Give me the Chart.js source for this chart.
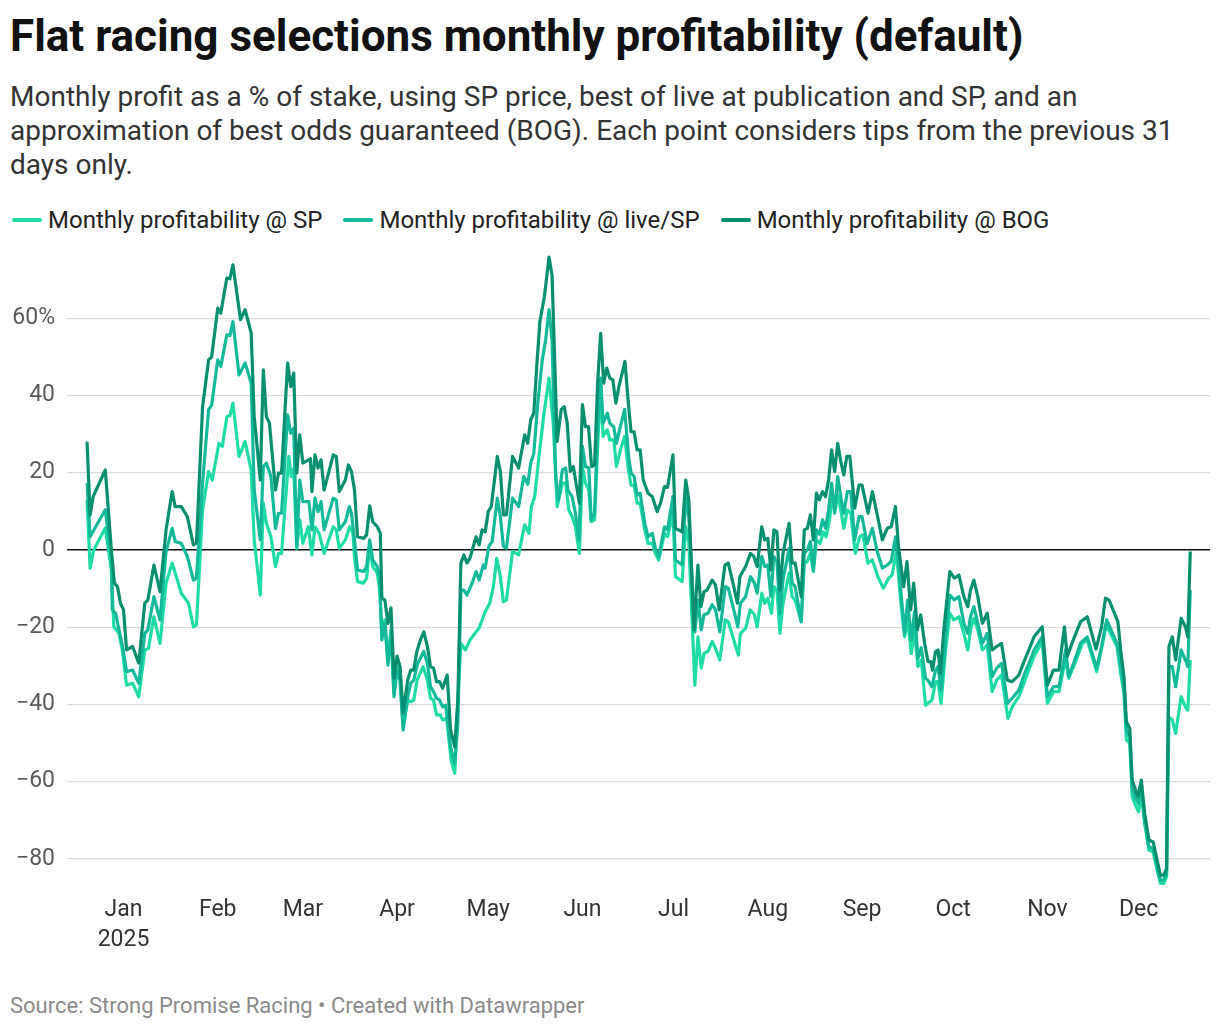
<!DOCTYPE html>
<html>
<head>
<meta charset="utf-8">
<title>Flat racing selections monthly profitability (default)</title>
<script src="https://cdn.jsdelivr.net/npm/chart.js@4.4.1/dist/chart.umd.min.js"></script>
<style>
    body { margin: 0; background: #fff; font-family: Roboto, "Noto Sans", sans-serif; }
    #page { position: relative; width: 1220px; height: 1030px; overflow: hidden; }
    .title { position: absolute; left: 10px; top: 11px; font-size: 44px; font-weight: 700; line-height: 50px; color: #111; white-space: nowrap; }
    .subtitle { position: absolute; left: 10px; top: 80px; width: 1200px; font-size: 28px; line-height: 34px; color: #333; }
    .legend { position: absolute; left: 12px; top: 205px; height: 30px; display: flex; align-items: center; font-size: 24px; color: #222; white-space: nowrap; }
    .legend-item { display: flex; align-items: center; margin-right: 21px; }
    .swatch { width: 30px; height: 4px; border-radius: 2px; margin-right: 6px; }
    .source { position: absolute; left: 10px; top: 993px; font-size: 22px; line-height: 26px; color: #8a8a8a; white-space: nowrap; }
    #chart { position: absolute; left: 0; top: 240px; }
</style>
</head>
<body>
<div id="page">
    <div class="title">Flat racing selections monthly profitability (default)</div>
    <div class="subtitle">Monthly profit as a % of stake, using SP price, best of live at publication and SP, and an approximation of best odds guaranteed (BOG). Each point considers tips from the previous 31 days only.</div>
    <div class="legend" id="legend"></div>
    <canvas id="chart" width="1220" height="720"></canvas>
    <div class="source">Source: Strong Promise Racing • Created with Datawrapper</div>
</div>
<script>
// Day numbers count from 1 Jan 2025 (day 0)
const monthStarts = [0, 31, 59, 90, 120, 151, 181, 212, 243, 273, 304, 334];
const monthLabels = [['Jan', '2025'], 'Feb', 'Mar', 'Apr', 'May', 'Jun', 'Jul', 'Aug', 'Sep', 'Oct', 'Nov', 'Dec'];
const yTicks = [-80, -60, -40, -20, 0, 20, 40, 60];

const seriesNames = ['Monthly profitability @ SP', 'Monthly profitability @ live/SP', 'Monthly profitability @ BOG'];

// [day, profit %]
const spPoints = [
    [-12, 13], [-11, -4.7], [-9.8, 0], [-6, 5.7], [-4, -5.2], [-3.2, -19.9], [-1.5, -21.6], [-0.4, -25.9], [1, -35], [3, -34.5],
    [5, -38], [7, -25.9], [8.2, -25.5], [10, -17.3], [12, -24.2], [14, -8.6], [16, -3.4], [17, -5.9], [19, -11.2], [21.4, -13.8],
    [23, -19.9], [24, -19.4], [26, 10.4], [28, 20.3], [29.2, 18.1], [31.4, 27.6], [32.5, 26.8], [34, 34.5], [35, 34.8], [36, 38],
    [38, 24.2], [40, 28.1], [42, 20.7], [43, 2.6], [45, -11.7], [46, 12.1], [47, 6.9], [48.5, 3.4], [50, -4.3], [51, -0.9],
    [52, -0.9], [54.4, 24.2], [55.2, 19], [56, 21], [57, 0.4], [58, 7.8], [59, 1.7], [60.8, 6], [62, -1.3], [63, 6],
    [64.4, 4.2], [66, -0.9], [69, 6], [70, 5.2], [71, 0.4], [73, 2.6], [74.4, 6], [75.5, 4.3], [76, -1.7], [77, -8.2],
    [79, -8.6], [80, -7.3], [81, 1.3], [82, -4.3], [83.5, -6], [84.3, -10.4], [85, -22.5], [86, -18.1], [87, -28.5], [88, -20.7],
    [89, -37.1], [90, -30.2], [91, -33.7], [92, -45.7], [93.5, -38.9], [94.5, -39.3], [95.5, -38.9], [96.6, -33.7], [98.6, -30.2], [100, -33.7],
    [101, -38.4], [102, -38.9], [103, -42.7], [104.2, -42.7], [105, -44], [106.3, -43.6], [107.8, -54.4], [109, -57.8], [110, -38.9], [111, -24.2],
    [112.5, -25.9], [114, -23.3], [117, -20.2], [119, -16], [120.5, -13.8], [121.7, -9.5], [122.8, -2.2], [123.9, -6.5], [125, -13.4], [126, -13],
    [128, -0.4], [130, -1.3], [131.3, 3.9], [132, 6.5], [133.4, 4.3], [134.2, 11.2], [135.3, 13.8], [136.7, 24.2], [138.3, 35], [140, 44.5],
    [141.4, 32.8], [142.7, 11.2], [144.4, 17.3], [145.5, 17.3], [146.5, 10.4], [147.6, 8.6], [148.7, 6], [150, -0.9], [151, 21.6], [152, 17.3],
    [153.1, 15.5], [153.9, 7.3], [155, 7.8], [156, 26.8], [157, 42.3], [157.8, 29.4], [159.2, 31.1], [160, 28.5], [161.3, 28.5], [162.2, 21.6],
    [163.5, 25.9], [164.9, 29.4], [166.2, 20.3], [167, 16.8], [168, 16.8], [169, 12.1], [170, 12.1], [171.5, 5.2], [172.6, 1.7], [174, 1.7],
    [175, -0.9], [176.1, -2.6], [178, 4.3], [179, 3.4], [180.8, 9.5], [181.6, -6.9], [183.8, -8.2], [185, 6], [186, 2], [188, -35],
    [189, -22.5], [190.1, -30.6], [191, -26.8], [192.3, -26.3], [193.7, -23.7], [194.8, -25.5], [196.2, -28.5], [198, -18.1], [199, -18.6], [200.8, -23.3],
    [202.3, -27.2], [203, -21.6], [204.7, -20.3], [206.2, -15.5], [207.6, -16.8], [208.5, -19.9], [210, -11.2], [211, -13.8], [212, -12.5], [213.2, -16.4],
    [214, -9.5], [215, -10.4], [216, -21.6], [217, -13.8], [219, -6], [220, -12.1], [221, -13], [223, -18.6], [224, -3.4], [225, -3],
    [226, -0.9], [227, -5.6], [228, 2.6], [229.2, 1.7], [230.3, 4.7], [231.2, 3.4], [232.3, 7.8], [233.3, 13.8], [234.2, 10.4], [235, 14.2],
    [236, 10.4], [237, 5.6], [238.2, 10.4], [239.3, 9.5], [240.8, -0.9], [242.2, 3.4], [243.3, 3.9], [244.9, -3.4], [246.4, -2.6], [248.2, -6.9],
    [250, -9.9], [251.8, -7.3], [252.9, -6.5], [254.3, -0.4], [255.8, -13.8], [257, -22.5], [258, -18], [259.2, -26.8], [260.3, -21], [261.4, -30.2],
    [262.5, -28.5], [263.9, -40.2], [265.3, -39.3], [266, -38.9], [267.2, -34.1], [268, -34.1], [269, -39.7], [270.5, -25.9], [271.9, -16.4], [273.2, -18.1],
    [274.9, -17.3], [276.5, -21.6], [277.8, -25.9], [278.7, -20.7], [279.8, -17.7], [281.1, -20.7], [282.6, -25.9], [284.2, -24.6], [285.8, -36.7], [287.3, -33.7],
    [288.9, -32.4], [291, -43.6], [292.4, -40.6], [294.6, -38], [296.3, -34.5], [297.9, -31.1], [299.6, -27.6], [302.3, -23.7], [304, -39.7], [306, -36.7],
    [307.8, -36.7], [310, -28.1], [311, -33.2], [313.3, -28.9], [315.5, -24.2], [317.1, -23.3], [320.2, -31.5], [322, -25], [323.3, -19.5], [324.5, -21.2],
    [326.9, -25], [328.1, -31.9], [329.2, -37.1], [330, -49.2], [331.1, -50], [331.9, -63.9], [333, -66.1], [334, -67.8], [334.9, -63], [336, -70.9],
    [337.4, -77.7], [338.8, -78.2], [340.1, -82.9], [341.2, -86.3], [342.3, -86.3], [343.2, -84.6], [344, -43.2], [345.1, -44], [346.2, -47.5], [348, -38],
    [349.4, -40.6], [350.2, -41.5], [351, -28.5]
];

const livePoints = [
    [-12, 17.3], [-11, 3.4], [-6, 10.4], [-4, -2.6], [-3.7, -15.5], [-2.6, -16.4], [-1.5, -20.7], [-0.4, -24.6], [1, -31.5], [3, -31.1],
    [5, -34.5], [7, -21.6], [8, -20.7], [10, -12.1], [12, -18.1], [14, -0.4], [16, 5.6], [17, 2.2], [19, 1.7], [21, -1.7],
    [23, -7.8], [24, -7.3], [26, 17.3], [28, 36.3], [29, 37.5], [31, 49.2], [32, 47.5], [34, 55.7], [35, 55.5], [36, 59.1],
    [38, 45.3], [40, 48.4], [42, 43.2], [43, 15.5], [45, 2.6], [46, 21.6], [47, 22.5], [48.5, 19], [50, 5.5], [51, 9.5],
    [52, 9.5], [54, 35], [55, 30.2], [56, 31.5], [57, 0.9], [58, 18.1], [59, 12.5], [61, 12.5], [62, 5.2], [63, 13.4],
    [64, 9.9], [65, 12.5], [66, 5.2], [69, 13.4], [70, 12.9], [71, 5.2], [73, 7.3], [74.3, 11.2], [75, 9.5], [76, 2.6],
    [77, -5.2], [79, -5.6], [80, -4.3], [81, 2.6], [82, -2.6], [83.5, -4.3], [84.3, -6.9], [85, -23.3], [86, -19], [87, -29.8],
    [88, -21.6], [89, -38], [90, -31.1], [91, -33.7], [92, -46.6], [93.5, -38], [94.5, -34.5], [95.5, -33.7], [96.8, -29.4], [98.8, -26.3],
    [100, -29.4], [101, -35.4], [102, -36.7], [103, -38.4], [104, -38.9], [105, -40.6], [106, -40.2], [107.6, -51], [109, -55.3], [110, -45],
    [111, -10.4], [112, -10.4], [113, -11.7], [114.7, -8.6], [116, -5.6], [117, -7.8], [118.4, -3.9], [119, -4.7], [120.2, 0.9], [121.3, 2.2],
    [123, 13.4], [124, 8.6], [125, 0.9], [126, 0.5], [128, 13.4], [130, 11.2], [131.7, 19], [133, 17], [134, 22.5], [135, 25],
    [136.3, 38], [137.8, 49.2], [138.9, 54.4], [140, 62.2], [141, 54.4], [142.2, 19], [143.1, 13], [144.4, 20.7], [145.5, 21.2], [146.2, 15.5],
    [147.6, 13.8], [148.7, 9.5], [149.8, 2.6], [151, 26.8], [152, 21.6], [153.1, 21.2], [153.9, 7.8], [155, 9.5], [156, 31.9], [157, 44.5],
    [157.8, 32.8], [159.2, 35.4], [160, 32.8], [161.3, 31.9], [162.2, 27.6], [163.2, 31.1], [164.9, 36.4], [166.2, 24.2], [167, 19.9], [168, 19],
    [169, 14.2], [170, 14.7], [171.5, 6.9], [172.6, 3.4], [174, 4.3], [175, 0.4], [176.1, -1.7], [178, 6], [179, 5.2], [180.8, 13.8],
    [181.6, -2.6], [183.8, -3.9], [185, 13.4], [186, 8.6], [188, -21.2], [189, -13], [190.1, -20.7], [191, -16.8], [192.3, -16.4], [193.7, -14.2],
    [194.8, -15.5], [196.2, -21.2], [198, -9.5], [199, -9.9], [200.8, -15.5], [202.1, -19.9], [203, -13.8], [204.7, -12.1], [206.3, -6.9], [207.6, -8.6],
    [208.5, -11.2], [210, -1.7], [211, -4.3], [212, -3.9], [213, -12.1], [214, -1.7], [215, -3], [216, -16.4], [217, -7.8], [219, 0.4],
    [220, -8.6], [221, -9.5], [223, -18.6], [224, -0.9], [225, 0], [226, 2.2], [227, -5.2], [228, 5.2], [229, 4], [230, 7.8],
    [231, 5.6], [232, 10.4], [233, 17.3], [234, 9.5], [235, 19], [236, 13.8], [237, 9.5], [238.2, 15.1], [239.3, 15.1], [240.6, 2.6],
    [242, 8.6], [243, 8.6], [244.7, 1.7], [246.4, 5.6], [248, -0.4], [249.7, -4.7], [251.3, -3.9], [252.6, -3], [254, 3.4], [255, -3.4],
    [257, -21.6], [258, -13], [259.2, -23.3], [260.3, -15.9], [261.4, -28.1], [262.5, -25.3], [263.9, -33.2], [265, -34.1], [266, -35.4], [267.2, -31.1],
    [268, -30.2], [269, -36.3], [270.5, -22.5], [271.9, -11.7], [273.4, -12.9], [274.9, -12.1], [276.5, -19], [277.8, -21.6], [278.7, -17.3], [279.8, -14.7],
    [281.1, -19], [282.6, -24.2], [284.2, -21.6], [285.8, -32.8], [287.3, -30.6], [288.9, -29.4], [290.9, -39.7], [292.4, -38.4], [294.6, -36.3], [296.3, -32.4],
    [297.9, -29.4], [299.6, -25.9], [302.3, -22.5], [304, -38], [306, -35.4], [307.8, -35.4], [310, -25.9], [311, -32.8], [313, -28.5], [315, -24],
    [317.1, -22.5], [320.2, -30.6], [321.8, -25], [323.5, -18.1], [324.5, -19.9], [326.9, -24.2], [328.1, -30.2], [329.2, -35.4], [330, -46.6], [331.1, -48.4],
    [331.9, -61.3], [333, -64.3], [334, -65.6], [334.9, -61], [336, -70], [337.4, -76.9], [338.8, -77.3], [340.1, -82], [341.2, -85.5], [342.3, -85.5],
    [343.2, -83.8], [344, -30.2], [345.1, -30.2], [346.2, -35.4], [348, -25.9], [349.4, -28.5], [350.2, -30.2], [351, -10.4]
];

const bogPoints = [
    [-12, 28], [-11, 9], [-10, 13.8], [-6, 20.7], [-4, 0], [-3, -8.6], [-2, -9.5], [-1, -13.8], [0, -15.5], [1, -25.9],
    [3, -25], [5, -29.3], [7, -13.8], [8, -13], [10, -3.9], [12, -10.8], [14, 5.2], [16, 15.1], [17, 11.2], [19, 11.2],
    [21, 8.6], [23, 1.3], [24, 1.8], [26, 37], [28, 49.2], [29, 50], [31, 62.6], [32, 61.3], [34, 70.4], [35, 70.2],
    [36, 73.8], [38.5, 59.6], [40, 62.2], [42, 56.2], [43, 34.5], [45, 18.1], [46, 46.6], [47, 34.5], [48, 32.9], [50, 15.5],
    [51, 19.9], [52, 19.9], [54, 48.4], [55, 42.3], [56, 45.8], [57, 19.9], [58, 29.8], [59, 22.5], [61.5, 23.6], [62, 15.1],
    [63, 24.6], [64, 21.2], [65, 23.3], [66, 15.5], [69, 24.6], [70, 24.2], [71, 15.1], [73, 18.1], [74, 22], [75, 20.3],
    [76, 15.5], [77, 3.4], [79, 3], [80, 3.9], [81, 11.4], [82, 7.3], [83.5, 6], [84.5, 4.3], [85, -12.5], [86, -13],
    [87, -19], [88, -15], [89, -33.2], [90, -27.5], [91, -30.2], [92, -42.2], [93.5, -33.7], [94.5, -31.1], [95.5, -31.1], [96.5, -26.3],
    [97.7, -23.3], [98.8, -21.2], [100, -25], [101, -30.2], [102, -30.6], [103, -34.1], [104, -34.1], [105, -35.8], [106.5, -32.4], [107.6, -46.6],
    [109, -51], [110, -38.9], [111, -3.4], [112, -1.3], [113, -3.4], [114, -2.1], [116, 3.4], [117, 1.3], [118, 5.2], [119, 4.7],
    [120, 9.9], [121, 11.2], [123, 24.2], [124, 20.3], [125, 9.1], [126, 9.1], [128, 24.2], [130, 21.2], [132, 29.8], [133, 27.6],
    [134, 33.7], [135, 35.4], [136, 47.9], [137, 59.1], [138.5, 65.6], [140, 75.8], [141, 71.2], [142.7, 28.1], [144, 36.3], [145, 37.1],
    [146, 32.8], [147, 20.3], [148, 21.6], [150, 12.1], [151, 37.6], [152, 31.9], [153, 31.9], [154, 21.6], [155, 22], [156, 43.2],
    [157, 56.1], [158, 43.2], [159, 47.1], [160, 44.5], [161, 44], [162, 38], [163, 42.3], [165, 48.8], [166, 38.9], [167, 30.6],
    [168, 30.6], [169, 25.9], [170, 25.9], [171, 18.1], [172.6, 14.7], [174, 13.8], [175.6, 9.9], [176.7, 12.1], [178, 16.4], [179, 16.2],
    [180.8, 24.6], [181.6, 5.6], [183.8, 4.7], [185, 18.1], [186, 13], [187.7, -20.7], [189, -3.9], [190, -14.7], [191, -10.8], [192, -10.4],
    [193.7, -7.8], [194.8, -9.1], [196, -15.5], [197.9, -3.9], [199, -3.4], [200.8, -9.5], [202, -13.8], [202.8, -6.9], [204.7, -4.3], [206.3, -0.9],
    [207.4, -1.7], [208.5, -4.3], [210, 6], [211, 2.6], [212, 3], [213, -5.2], [214, 5.2], [215, 4.7], [216, -10.4], [217, -0.9],
    [219, 6.9], [220, -3.4], [221, -3.4], [223, -12.1], [224, 5.2], [225, 5.6], [226, 9.1], [227, 2.6], [228, 14.7], [229, 13],
    [230, 15.1], [231, 13.8], [232, 18.1], [233, 25.9], [234, 20.3], [235, 27.6], [236, 22.9], [237, 19.4], [238, 24.2], [239, 24.2],
    [240.6, 10.8], [242, 16.8], [243, 16.8], [245, 9.5], [246.4, 15.1], [248, 9.1], [249.7, 2.6], [251.3, 5.6], [252.6, 6], [254, 11.2],
    [255, 0.9], [256.7, -9.5], [257.8, -3], [259, -15.5], [260, -8.6], [261.2, -20.7], [262.3, -16.8], [263.6, -24.2], [264.7, -28.9], [265.6, -28.9],
    [266.2, -31.1], [267.2, -26.3], [268, -25.9], [268.8, -31.9], [270, -19.9], [271.9, -5.6], [273.4, -7.3], [274.9, -6.5], [276.5, -12.1], [277.8, -14.7],
    [278.7, -10.4], [279.8, -7.8], [281.1, -12.1], [282.6, -19], [284.2, -16.4], [285.8, -25.9], [287.3, -25], [288.9, -24.2], [290.8, -33.7], [292.4, -34.1],
    [294.6, -32.4], [296.3, -28.9], [297.9, -25.9], [299.6, -22.5], [302.3, -19.9], [304, -35], [306, -31.1], [307.8, -31.1], [309.6, -19.9], [310.5, -27.6],
    [312.9, -22.5], [314.9, -18.6], [317.1, -17.3], [320, -25.7], [321.8, -20], [323.1, -12.5], [324.3, -13], [327.2, -18.6], [328.1, -25.9], [329.2, -32.8],
    [330, -44.5], [331.1, -46.2], [331.9, -59.6], [332.8, -61.7], [333.8, -63.9], [334.9, -59.6], [336, -68.2], [337.4, -75.1], [338.8, -75.6], [340.1, -80.3],
    [341.2, -84.2], [342.3, -84.2], [343.2, -82.5], [344, -25], [345.1, -22.5], [346.2, -28.5], [348, -17.7], [349.4, -19.9], [350.2, -22.5], [351, -0.4]
];

const colors = {
    sp: '#1fdba6',
    live: '#14b99a',
    bog: '#078f6f',
    grid: '#d9d9d9',
    zero: '#111111',
    yText: '#5a5a5a',
    xText: '#333333'
};

function toXY(points) {
    return points.map(p => ({ x: p[0], y: p[1] }));
}

function renderLegend() {
    const legendEl = document.getElementById('legend');
    const swatchColors = [colors.sp, colors.live, colors.bog];
    seriesNames.forEach((name, i) => {
        const item = document.createElement('div');
        item.className = 'legend-item';
        item.innerHTML = '<span class="swatch" style="background:' + swatchColors[i] + '"></span>' + name;
        legendEl.appendChild(item);
    });
}

function lineDataset(label, points, color, order) {
    return {
        label: label,
        data: toXY(points),
        borderColor: color,
        backgroundColor: color,
        borderWidth: 3.2,
        pointRadius: 0,
        tension: 0,
        borderJoinStyle: 'round',
        order: order
    };
}

function renderChart() {
    const ctx = document.getElementById('chart');
    const tickFont = { family: 'Roboto', size: 23, lineHeight: 1.3 };

    new Chart(ctx, {
        type: 'line',
        data: {
            datasets: [
                lineDataset(seriesNames[0], spPoints, colors.sp, 3),
                lineDataset(seriesNames[1], livePoints, colors.live, 2),
                lineDataset(seriesNames[2], bogPoints, colors.bog, 1)
            ]
        },
        options: {
            responsive: false,
            animation: false,
            layout: { padding: { top: 12.5, right: 10, left: 0, bottom: 0 } },
            plugins: {
                legend: { display: false },
                tooltip: { enabled: false }
            },
            scales: {
                x: {
                    type: 'linear',
                    min: -18.6,
                    max: 357.5,
                    grid: { display: false, drawTicks: false, tickLength: 0 },
                    border: { display: false },
                    afterBuildTicks: scale => {
                        scale.ticks = monthStarts.map(v => ({ value: v }));
                    },
                    afterFit: scale => {
                        scale.height = 74;
                        scale.paddingLeft = 0;
                        scale.paddingRight = 0;
                    },
                    ticks: {
                        autoSkip: false,
                        maxRotation: 0,
                        padding: 9,
                        color: colors.xText,
                        font: tickFont,
                        callback: (value, index) => monthLabels[index]
                    }
                },
                y: {
                    min: -87,
                    max: 77,
                    afterBuildTicks: scale => {
                        scale.ticks = yTicks.map(v => ({ value: v }));
                    },
                    afterFit: scale => {
                        scale.width = 67;
                        scale.paddingTop = 0;
                        scale.paddingBottom = 0;
                    },
                    border: { display: false },
                    grid: {
                        drawTicks: false,
                        tickLength: 0,
                        color: c => c.tick && c.tick.value === 0 ? colors.zero : colors.grid,
                        lineWidth: c => c.tick && c.tick.value === 0 ? 1.6 : 1.2
                    },
                    ticks: {
                        padding: 12,
                        color: colors.yText,
                        font: tickFont,
                        callback: value => {
                            if (value === 60) return '60%';
                            if (value < 0) return '\u2212' + Math.abs(value);
                            return String(value);
                        }
                    }
                }
            }
        }
    });
}

renderLegend();
renderChart();
</script>
</body>
</html>
